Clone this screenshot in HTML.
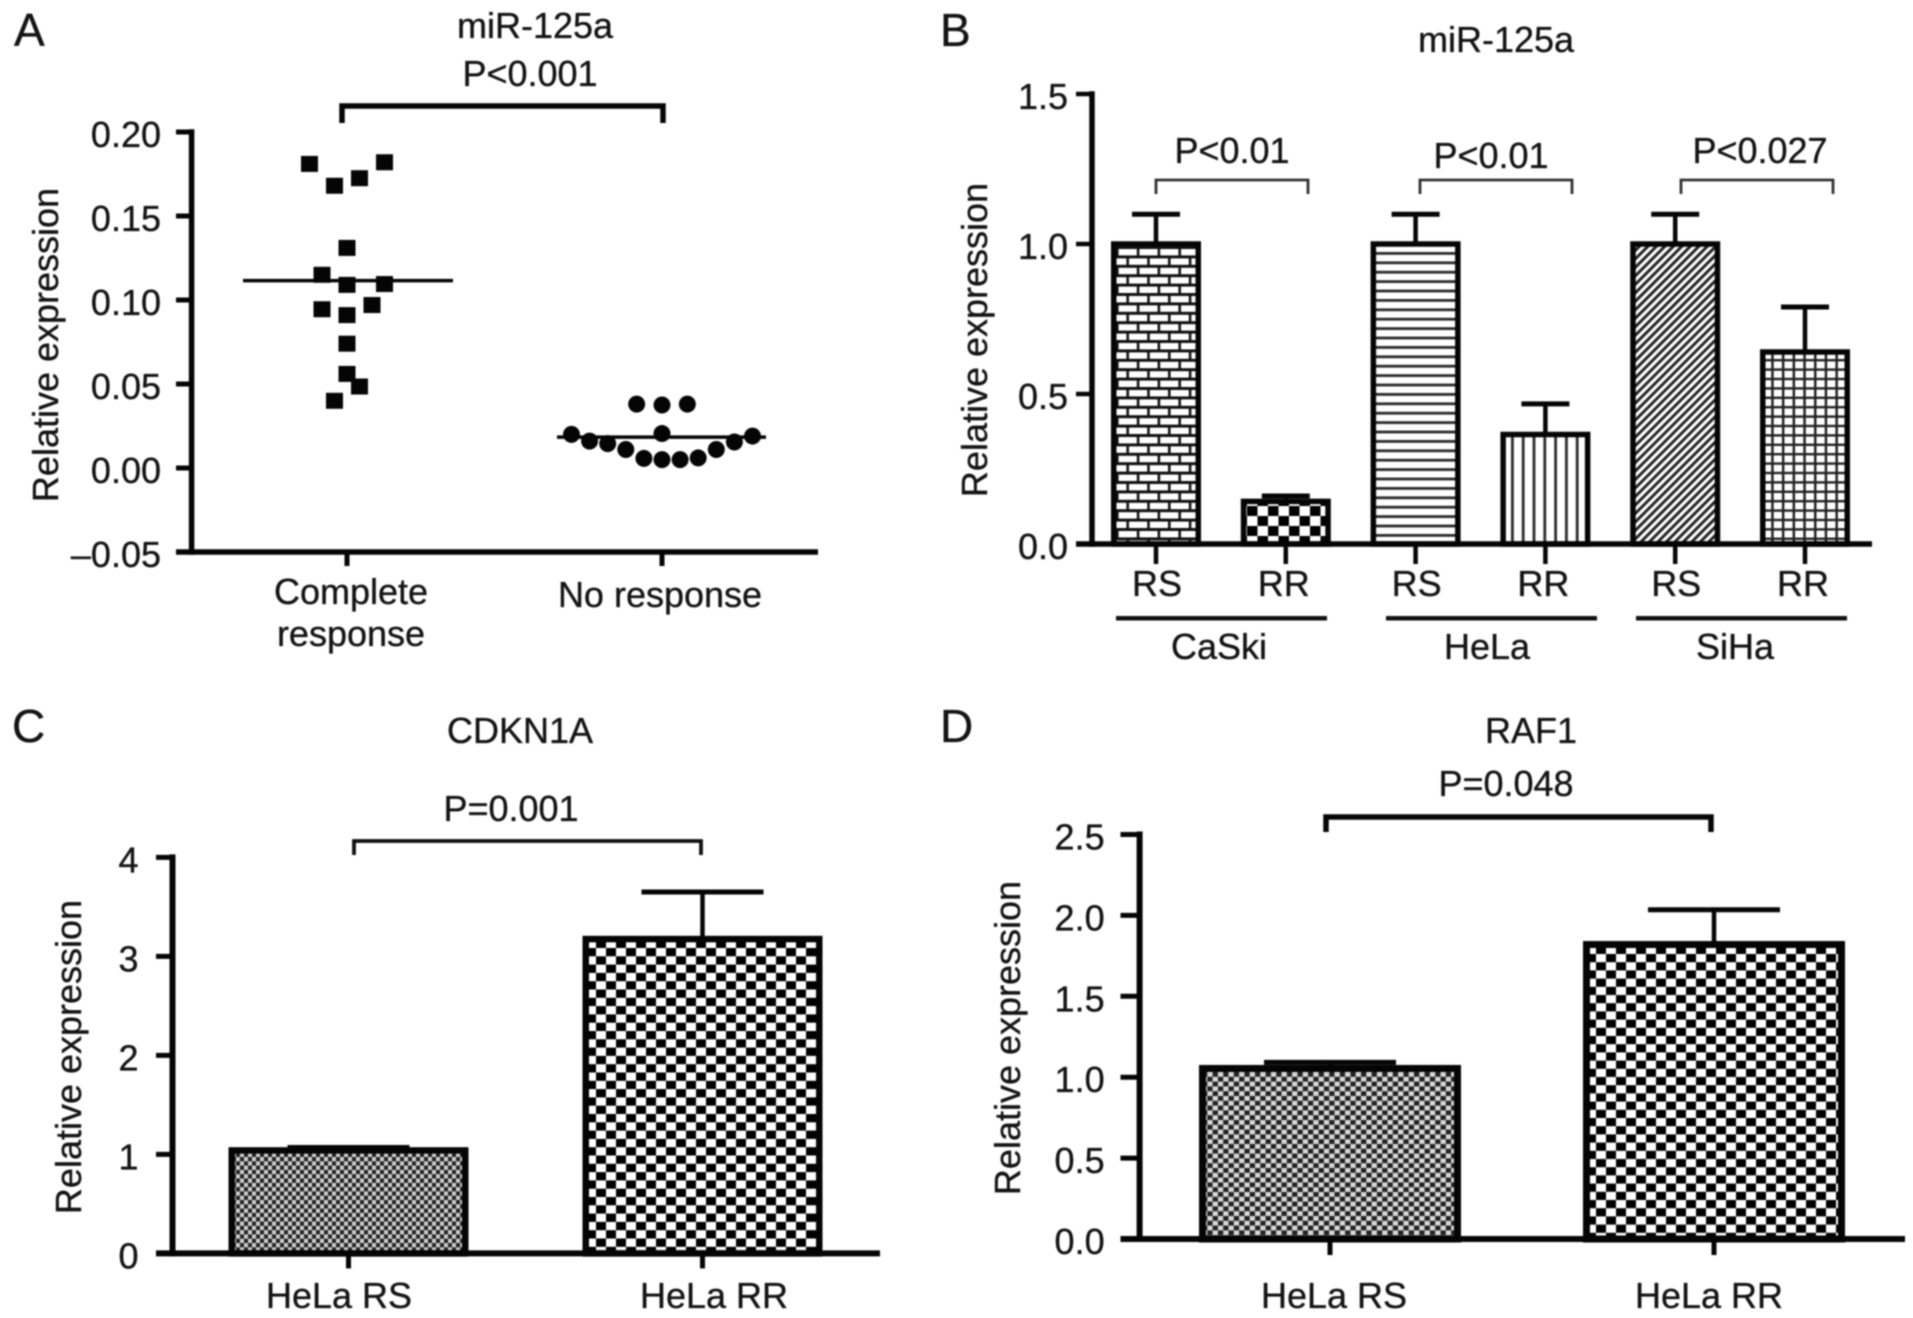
<!DOCTYPE html>
<html lang="en">
<head>
<meta charset="utf-8">
<title>Relative expression of miR-125a, CDKN1A and RAF1</title>
<style>
html,body{margin:0;padding:0;background:#fff;}
body{width:1913px;height:1318px;overflow:hidden;}
#figure{display:block;filter:blur(0.7px);}
text{font-family:"Liberation Sans",sans-serif;font-size:36px;fill:#141414;stroke:#141414;stroke-width:0.35px;}
.letter{font-size:46px;}
</style>
</head>
<body>
<svg id="figure" xmlns="http://www.w3.org/2000/svg" width="1913" height="1318" viewBox="0 0 1913 1318">
<defs>
<pattern id="p-brick" patternUnits="userSpaceOnUse" width="20.8" height="18.8" x="1113" y="246">
<rect width="20.8" height="18.8" fill="#fff"/>
<rect y="0" width="20.8" height="3" fill="#111"/>
<rect y="9.4" width="20.8" height="3" fill="#111"/>
<rect x="3" y="0" width="2.6" height="9.4" fill="#111"/>
<rect x="13.4" y="9.4" width="2.6" height="9.4" fill="#111"/>
</pattern>
<pattern id="p-check-b" patternUnits="userSpaceOnUse" width="21" height="20" x="1247" y="506">
<rect width="21" height="20" fill="#fff"/>
<rect width="10.5" height="10" fill="#000"/>
<rect x="10.5" y="10" width="10.5" height="10" fill="#000"/>
</pattern>
<pattern id="p-hlines" patternUnits="userSpaceOnUse" width="10" height="9.4" x="1375" y="246">
<rect width="10" height="9.4" fill="#fff"/>
<rect y="6" width="10" height="2.8" fill="#2a2a2a"/>
</pattern>
<pattern id="p-vlines" patternUnits="userSpaceOnUse" width="10.8" height="10" x="1503" y="440">
<rect width="10.8" height="10" fill="#fff"/>
<rect x="8" width="2.8" height="10" fill="#2a2a2a"/>
</pattern>
<pattern id="p-diag" patternUnits="userSpaceOnUse" width="6" height="6" patternTransform="rotate(-45)">
<rect width="6" height="6" fill="#fff"/>
<rect width="6" height="2.9" fill="#222"/>
</pattern>
<pattern id="p-grid" patternUnits="userSpaceOnUse" width="10.7" height="9.4" x="1763" y="352">
<rect width="10.7" height="9.4" fill="#fff"/>
<rect x="8.2" width="2.7" height="9.4" fill="#222"/>
<rect y="7" width="10.7" height="2.6" fill="#222"/>
</pattern>
<pattern id="p-fine-c" patternUnits="userSpaceOnUse" width="8" height="8.6" x="232" y="1157">
<rect width="8" height="8.6" fill="#cfcfcf"/>
<rect width="4" height="4.3" fill="#222"/>
<rect x="4" y="4.3" width="4" height="4.3" fill="#222"/>
</pattern>
<pattern id="p-check-c" patternUnits="userSpaceOnUse" width="20" height="16.6" x="586" y="948">
<rect width="20" height="16.6" fill="#fff"/>
<rect width="10" height="8.3" fill="#000"/>
<rect x="10" y="8.3" width="10" height="8.3" fill="#000"/>
</pattern>
<pattern id="p-fine-d" patternUnits="userSpaceOnUse" width="10.6" height="9.6" x="1202" y="1072">
<rect width="10.6" height="9.6" fill="#d8d8d8"/>
<rect width="5.3" height="4.8" fill="#222"/>
<rect x="5.3" y="4.8" width="5.3" height="4.8" fill="#222"/>
</pattern>
<pattern id="p-check-d" patternUnits="userSpaceOnUse" width="20" height="16.4" x="1586" y="954">
<rect width="20" height="16.4" fill="#fff"/>
<rect width="10" height="8.2" fill="#000"/>
<rect x="10" y="8.2" width="10" height="8.2" fill="#000"/>
</pattern>
</defs>

<g id="panel-a">
<text class="letter" x="14" y="46">A</text>
<text x="535" y="38" text-anchor="middle">miR-125a</text>
<text x="530" y="86" text-anchor="middle">P&lt;0.001</text>
<text transform="translate(58,345) rotate(-90)" text-anchor="middle">Relative expression</text>
<text x="351" y="604" text-anchor="middle">Complete</text>
<text x="351" y="646" text-anchor="middle">response</text>
<text x="660" y="607" text-anchor="middle">No response</text>
</g>

<g id="panel-b">
<text class="letter" x="940" y="46">B</text>
<text x="1496" y="52" text-anchor="middle">miR-125a</text>
<text x="1232" y="163" text-anchor="middle">P&lt;0.01</text>
<text x="1491" y="168" text-anchor="middle">P&lt;0.01</text>
<text x="1760" y="163" text-anchor="middle">P&lt;0.027</text>
<text transform="translate(987,340) rotate(-90)" text-anchor="middle">Relative expression</text>
<text x="1219" y="659" text-anchor="middle">CaSki</text>
<text x="1487" y="659" text-anchor="middle">HeLa</text>
<text x="1735" y="659" text-anchor="middle">SiHa</text>
<rect x="1116" y="616" width="211" height="4.5" fill="#111"/>
<rect x="1386" y="616" width="211" height="4.5" fill="#111"/>
<rect x="1636" y="616" width="211" height="4.5" fill="#111"/>
</g>

<g id="panel-c">
<text class="letter" x="12" y="742">C</text>
<text x="520" y="743" text-anchor="middle">CDKN1A</text>
<text x="511" y="821" text-anchor="middle">P=0.001</text>
<text transform="translate(81,1057) rotate(-90)" text-anchor="middle">Relative expression</text>
</g>

<g id="panel-d">
<text class="letter" x="940" y="742">D</text>
<text x="1531" y="743" text-anchor="middle">RAF1</text>
<text x="1506" y="796" text-anchor="middle">P=0.048</text>
<text transform="translate(1020,1038) rotate(-90)" text-anchor="middle">Relative expression</text>
</g>
</svg>

<script>
// ---------- Panel A data ----------
const aTickValues = [0.20, 0.15, 0.10, 0.05, 0.00, -0.05];
const aTickLabels = ['0.20', '0.15', '0.10', '0.05', '0.00', '\u20130.05'];
const aCompleteValues = [0.181, 0.168, 0.1725, 0.182, 0.131, 0.115, 0.109, 0.1095, 0.097, 0.0945, 0.091, 0.074, 0.056, 0.0485, 0.040];
const aCompleteSwarm = [-3, -1, 1, 3, 0, -2, 0, 3, 2, -2, 0, 0, 0, 1, -1];
const aCompleteMean = 0.1115;
const aNoResponseValues = [0.020, 0.016, 0.0145, 0.011, 0.0057, 0.005, 0.005, 0.006, 0.011, 0.0155, 0.019, 0.0205, 0.038, 0.0375, 0.038];
const aNoResponseSwarm = [-5, -4, -3, -2, -1, 0, 1, 2, 3, 4, 5, 0, -1.4, 0, 1.4];
const aNoResponseMean = 0.0184;

// ---------- Panel B data ----------
const bTickValues = [1.5, 1.0, 0.5, 0.0];
const bTickLabels = ['1.5', '1.0', '0.5', '0.0'];
const bCategories = ['RS', 'RR', 'RS', 'RR', 'RS', 'RR'];
const bMeans = [1.0, 0.142, 1.0, 0.365, 1.0, 0.64];
const bErrorTops = [1.099, 0.16, 1.099, 0.467, 1.099, 0.79];
const bFills = ['p-brick', 'p-check-b', 'p-hlines', 'p-vlines', 'p-diag', 'p-grid'];

// ---------- Panel C data ----------
const cTickValues = [4, 3, 2, 1, 0];
const cTickLabels = ['4', '3', '2', '1', '0'];
const cCategories = ['HeLa RS', 'HeLa RR'];
const cMeans = [1.04, 3.175];
const cErrorTops = [1.07, 3.65];
const cFills = ['p-fine-c', 'p-check-c'];

// ---------- Panel D data ----------
const dTickValues = [2.5, 2.0, 1.5, 1.0, 0.5, 0.0];
const dTickLabels = ['2.5', '2.0', '1.5', '1.0', '0.5', '0.0'];
const dCategories = ['HeLa RS', 'HeLa RR'];
const dMeans = [1.054, 1.82];
const dErrorTops = [1.092, 2.035];
const dFills = ['p-fine-d', 'p-check-d'];

const NS = 'http://www.w3.org/2000/svg';
const INK = '#050505';

function yAxisScale(zeroY, pxPerUnit) {
  return function (v) { return zeroY - v * pxPerUnit; };
}
function xAxisScale(firstX, step) {
  return function (i) { return firstX + i * step; };
}
function drawLine(parent, x1, y1, x2, y2, width, name, color) {
  const e = document.createElementNS(NS, 'line');
  e.setAttribute('x1', x1);
  e.setAttribute('y1', y1);
  e.setAttribute('x2', x2);
  e.setAttribute('y2', y2);
  e.setAttribute('stroke', color || INK);
  e.setAttribute('stroke-width', width);
  
  
  parent.appendChild(e);
  return e;
}
function drawText(parent, x, y, str, anchor, name) {
  const e = document.createElementNS(NS, 'text');
  e.setAttribute('x', x);
  e.setAttribute('y', y);
  e.setAttribute('text-anchor', anchor);
  e.textContent = str;
  
  
  parent.appendChild(e);
  return e;
}
function drawBracket(parent, xa, xb, top, bottom, width, color, name) {
  const e = document.createElementNS(NS, 'polyline');
  e.setAttribute('points', xa + ',' + bottom + ' ' + xa + ',' + top + ' ' + xb + ',' + top + ' ' + xb + ',' + bottom);
  e.setAttribute('fill', 'none');
  e.setAttribute('stroke', color);
  e.setAttribute('stroke-width', width);
  
  
  parent.appendChild(e);
  return e;
}
function drawYAxis(parent, scale, opts, ticks, labels) {
  drawLine(parent, opts.axisX, scale(ticks[0]) - opts.weight / 2, opts.axisX, opts.baseY + opts.weight / 2, opts.weight, opts.prefix + '-y-axis');
  ticks.forEach(function (t, i) {
    const y = scale(t);
    drawLine(parent, opts.tickLeft, y, opts.axisX, y, opts.tickWeight, opts.prefix + '-y-tick');
    drawText(parent, opts.labelRight, y + 15, labels[i], 'end', opts.prefix + '-y-tick-label');
  });
}
function drawXAxis(parent, opts, tickXs) {
  drawLine(parent, opts.tickLeft, opts.baseY, opts.axisEnd, opts.baseY, opts.weight, opts.prefix + '-x-axis');
  tickXs.forEach(function (x) {
    drawLine(parent, x, opts.baseY, x, opts.baseY + opts.tickDrop, opts.tickWeight, opts.prefix + '-x-tick');
  });
}
function drawBars(parent, opts, scale, xs, means, tops, fills, categories) {
  means.forEach(function (m, i) {
    const cx = xs(i);
    const half = opts.barWidth / 2 - opts.barStroke / 2;
    const name = opts.prefix + '-bar-' + i;
    const stemBottom = scale(m);
    drawLine(parent, cx, stemBottom, cx, scale(tops[i]), opts.stem, name + '-error-stem');
    drawLine(parent, cx - opts.cap / 2, scale(tops[i]), cx + opts.cap / 2, scale(tops[i]), opts.capWeight, name + '-error-cap');
    const r = document.createElementNS(NS, 'rect');
    r.setAttribute('x', cx - half);
    r.setAttribute('y', scale(m));
    r.setAttribute('width', half * 2);
    r.setAttribute('height', opts.baseY - scale(m));
    r.setAttribute('fill', 'url(#' + fills[i] + ')');
    r.setAttribute('stroke', INK);
    r.setAttribute('stroke-width', opts.barStroke);
    
    
    parent.appendChild(r);
  });
}

// ---------- Panel A ----------
(function () {
  const g = document.getElementById('panel-a');
  const opts = { prefix: 'panel-a', axisX: 191.6, baseY: 552, weight: 5.5, tickWeight: 5, tickLeft: 176, labelRight: 161, axisEnd: 818, tickDrop: 14 };
  const y = yAxisScale(468, 1680);
  const x = xAxisScale(347, 315);
  drawYAxis(g, y, opts, aTickValues, aTickLabels);
  drawXAxis(g, opts, [x(0), x(1)]);
  drawBracket(g, 342, 663, 106, 123, 5.5, INK, 'panel-a-significance-bracket');
  aCompleteValues.forEach(function (v, i) {
    const s = document.createElementNS(NS, 'rect');
    s.setAttribute('x', x(0) + aCompleteSwarm[i] * 12.5 - 8.5);
    s.setAttribute('y', y(v) - 8);
    s.setAttribute('width', 17);
    s.setAttribute('height', 16);
    s.setAttribute('fill', INK);
    
    
    g.appendChild(s);
  });
  aNoResponseValues.forEach(function (v, i) {
    const c = document.createElementNS(NS, 'circle');
    c.setAttribute('cx', x(1) + aNoResponseSwarm[i] * 18.1);
    c.setAttribute('cy', y(v));
    c.setAttribute('r', 8.5);
    c.setAttribute('fill', INK);
    
    
    g.appendChild(c);
  });
  drawLine(g, x(0) - 104, y(aCompleteMean), x(0) + 106, y(aCompleteMean), 3.5, 'complete-response-mean-line');
  drawLine(g, x(1) - 105, y(aNoResponseMean), x(1) + 104, y(aNoResponseMean), 3.5, 'no-response-mean-line');
})();

// ---------- Panel B ----------
(function () {
  const g = document.getElementById('panel-b');
  const opts = { prefix: 'panel-b', axisX: 1092, baseY: 544, weight: 5.5, tickWeight: 4.5, tickLeft: 1076, labelRight: 1068, axisEnd: 1872, tickDrop: 20, barWidth: 90, barStroke: 5.5, stem: 4.5, cap: 48, capWeight: 5 };
  const y = yAxisScale(544, 300);
  const x = xAxisScale(1156, 129.8);
  drawYAxis(g, y, opts, bTickValues, bTickLabels);
  drawBars(g, opts, y, x, bMeans, bErrorTops, bFills, bCategories);
  drawXAxis(g, opts, bCategories.map(function (c, i) { return x(i); }));
  bCategories.forEach(function (c, i) {
    drawText(g, x(i) + (i % 2 ? -2 : 1), 596, c, 'middle', 'panel-b-x-label');
  });
  drawBracket(g, 1156, 1308, 180, 194, 2.8, '#333', 'bracket-caski');
  drawBracket(g, 1420, 1572, 180, 194, 2.8, '#333', 'bracket-hela');
  drawBracket(g, 1681, 1833, 180, 194, 2.8, '#333', 'bracket-siha');
})();

// ---------- Panel C ----------
(function () {
  const g = document.getElementById('panel-c');
  const opts = { prefix: 'panel-c', axisX: 172.5, baseY: 1253.4, weight: 6, tickWeight: 5, tickLeft: 156, labelRight: 138.5, axisEnd: 880, tickDrop: 15, barWidth: 240, barStroke: 6.5, stem: 4.5, cap: 122, capWeight: 5 };
  const y = yAxisScale(1253.4, 99);
  const x = xAxisScale(348.5, 354);
  drawYAxis(g, y, opts, cTickValues, cTickLabels);
  drawBars(g, opts, y, x, cMeans, cErrorTops, cFills, cCategories);
  drawXAxis(g, opts, [x(0), x(1)]);
  drawText(g, 339, 1308, cCategories[0], 'middle', 'panel-c-x-label');
  drawText(g, 714, 1308, cCategories[1], 'middle', 'panel-c-x-label');
  drawBracket(g, 354, 701, 841, 855, 3.8, '#111', 'panel-c-significance-bracket');
})();

// ---------- Panel D ----------
(function () {
  const g = document.getElementById('panel-d');
  const opts = { prefix: 'panel-d', axisX: 1139.6, baseY: 1239, weight: 6, tickWeight: 5, tickLeft: 1120.5, labelRight: 1104.6, axisEnd: 1905, tickDrop: 16, barWidth: 262, barStroke: 7, stem: 4.5, cap: 132, capWeight: 5 };
  const y = yAxisScale(1239, 161.8);
  const x = xAxisScale(1330, 384);
  drawYAxis(g, y, opts, dTickValues, dTickLabels);
  drawBars(g, opts, y, x, dMeans, dErrorTops, dFills, dCategories);
  drawXAxis(g, opts, [x(0), x(1)]);
  drawText(g, 1334, 1308, dCategories[0], 'middle', 'panel-d-x-label');
  drawText(g, 1709, 1308, dCategories[1], 'middle', 'panel-d-x-label');
  drawBracket(g, 1326, 1711, 817, 832, 5.5, INK, 'panel-d-significance-bracket');
})();
</script>
</body>
</html>
